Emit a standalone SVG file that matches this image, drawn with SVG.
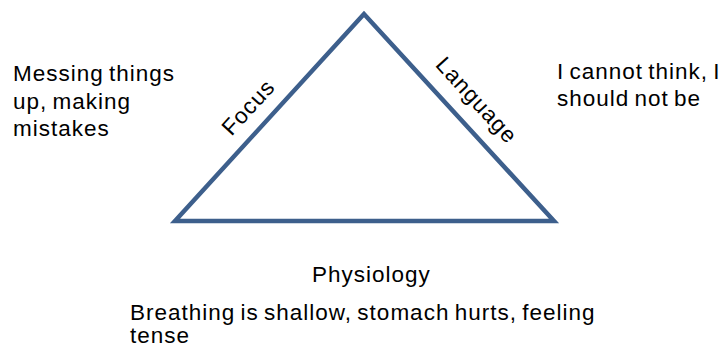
<svg xmlns="http://www.w3.org/2000/svg" width="723" height="350" viewBox="0 0 723 350">
<style>
.t{font-family:"Liberation Sans",Arial,sans-serif;font-size:22.5px;fill:#000;letter-spacing:1px;word-spacing:-2px}
.edge{fill:none;stroke:#3D5F8C;stroke-width:4.5;stroke-linejoin:miter}
</style>
<rect width="723" height="350" fill="#fff"/>
<g id="connectors">
<path id="triangle" class="edge" d="M364,14 L175,221 L554,221 Z"/>
</g>
<g id="focus"><text class="t" text-anchor="middle" transform="translate(248,107) rotate(-47.5)" y="8">Focus</text></g>
<g id="language"><text class="t" text-anchor="middle" transform="translate(477,100) rotate(47.5)" y="8">Language</text></g>
<g id="physiology"><text class="t" x="312" y="282">Physiology</text></g>
<g id="left-note"><text class="t" x="13" y="81">Messing things</text><text class="t" x="13" y="109">up, making</text><text class="t" x="13" y="136">mistakes</text></g>
<g id="right-note"><text class="t" x="557" y="79" word-spacing="-3">I cannot think, I</text><text class="t" x="557" y="106" word-spacing="-3">should not be</text></g>
<g id="bottom-note"><text class="t" x="130" y="320">Breathing is shallow, stomach hurts, feeling</text><text class="t" x="130" y="343">tense</text></g>
</svg>
